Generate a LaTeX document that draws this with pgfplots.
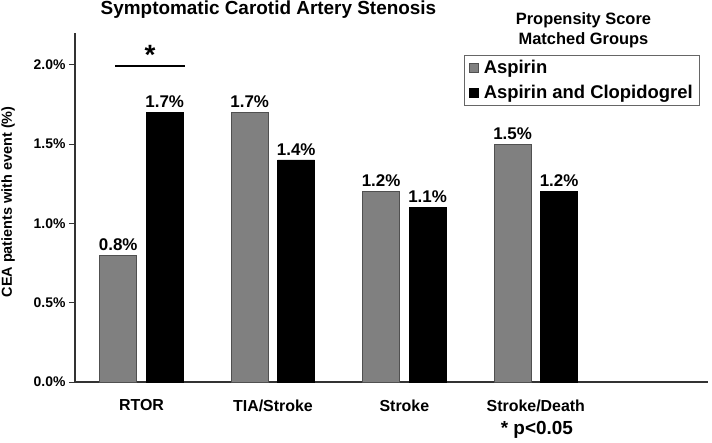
\documentclass[border=0pt]{standalone}
\usepackage{fontspec}
\setmainfont{Liberation Sans}
\usepackage{pgfplots}
\pgfplotsset{compat=1.18}
\definecolor{asagray}{HTML}{808080}
\definecolor{asaedge}{HTML}{505050}
\pgfplotsset{sqlegend/.style={legend image code/.code={\draw[#1] (0bp,-4.5bp) rectangle (9bp,4.5bp);}}}
\begin{document}
\begin{tikzpicture}
\useasboundingbox (-75bp,-61bp) rectangle (637bp,382bp);
\begin{axis}[
  scale only axis,
  width=633bp, height=349bp,
  ybar=9.5bp, bar width=37bp,
  xmin=-0.506, xmax=4.31,
  ymin=0, ymax=2.2,
  axis lines=left,
  axis line style={-, line width=1.2bp, black!80},
  xtick=data,
  xticklabels={RTOR, TIA/Stroke, Stroke, Stroke/Death},
  xticklabel style={font=\fontsize{16}{18}\selectfont\bfseries, yshift=-8bp},
  major x tick style={draw=none},
  ytick={0,0.5,...,2.0},
  yticklabel={\pgfmathprintnumber[fixed,fixed zerofill,precision=1]{\tick}\%},
  yticklabel style={font=\fontsize{14}{16}\selectfont\bfseries},
  /pgf/number format/assume math mode=true,
  tick align=outside, major tick length=6bp,
  major y tick style={line width=1bp, black!80},
  ylabel={CEA patients with event (\%)},
  ylabel style={font=\fontsize{14.5}{16}\selectfont\bfseries,
    at={(rel axis cs:-0.1058,0.516)}, anchor=center},
  nodes near coords={\pgfmathprintnumber[fixed,fixed zerofill,precision=1]{\pgfplotspointmeta}\%},
  nodes near coords style={font=\fontsize{17}{19}\selectfont\bfseries, yshift=1bp},
  clip=false,
  legend style={at={(rel axis cs:0.6145,0.937)}, anchor=north west,
    draw=black!60, font=\fontsize{18.5}{21}\selectfont\bfseries,
    inner xsep=5bp, inner ysep=3bp, row sep=6bp, cells={anchor=west},
    /tikz/every odd column/.append style={column sep=3bp}},
]
\addplot[fill=asagray, draw=asaedge, line width=0.6bp, sqlegend]
  coordinates {(0,0.8) (1,1.7) (2,1.2) (3,1.5)};
\addplot[fill=black, draw=black, line width=0.6bp, sqlegend]
  coordinates {(0,1.7) (1,1.4) (2,1.1) (3,1.2)};
\legend{Aspirin, Aspirin and Clopidogrel}
\draw[line width=2.2bp] (axis cs:-0.2,1.99) -- (axis cs:0.33,1.99);
\node[font=\fontsize{28}{28}\selectfont\bfseries] at (axis cs:0.065,2.06) {*};
\node[font=\fontsize{19}{21}\selectfont\bfseries] at (rel axis cs:0.3057,1.066) {Symptomatic Carotid Artery Stenosis};
\node[font=\fontsize{16.5}{20}\selectfont\bfseries, align=center] at (rel axis cs:0.8033,1.0086) {Propensity Score\\Matched Groups};
\node[font=\fontsize{19}{21}\selectfont\bfseries] at (axis cs:3.008,-0.303) {* p<0.05};
\end{axis}
\end{tikzpicture}
\end{document}
